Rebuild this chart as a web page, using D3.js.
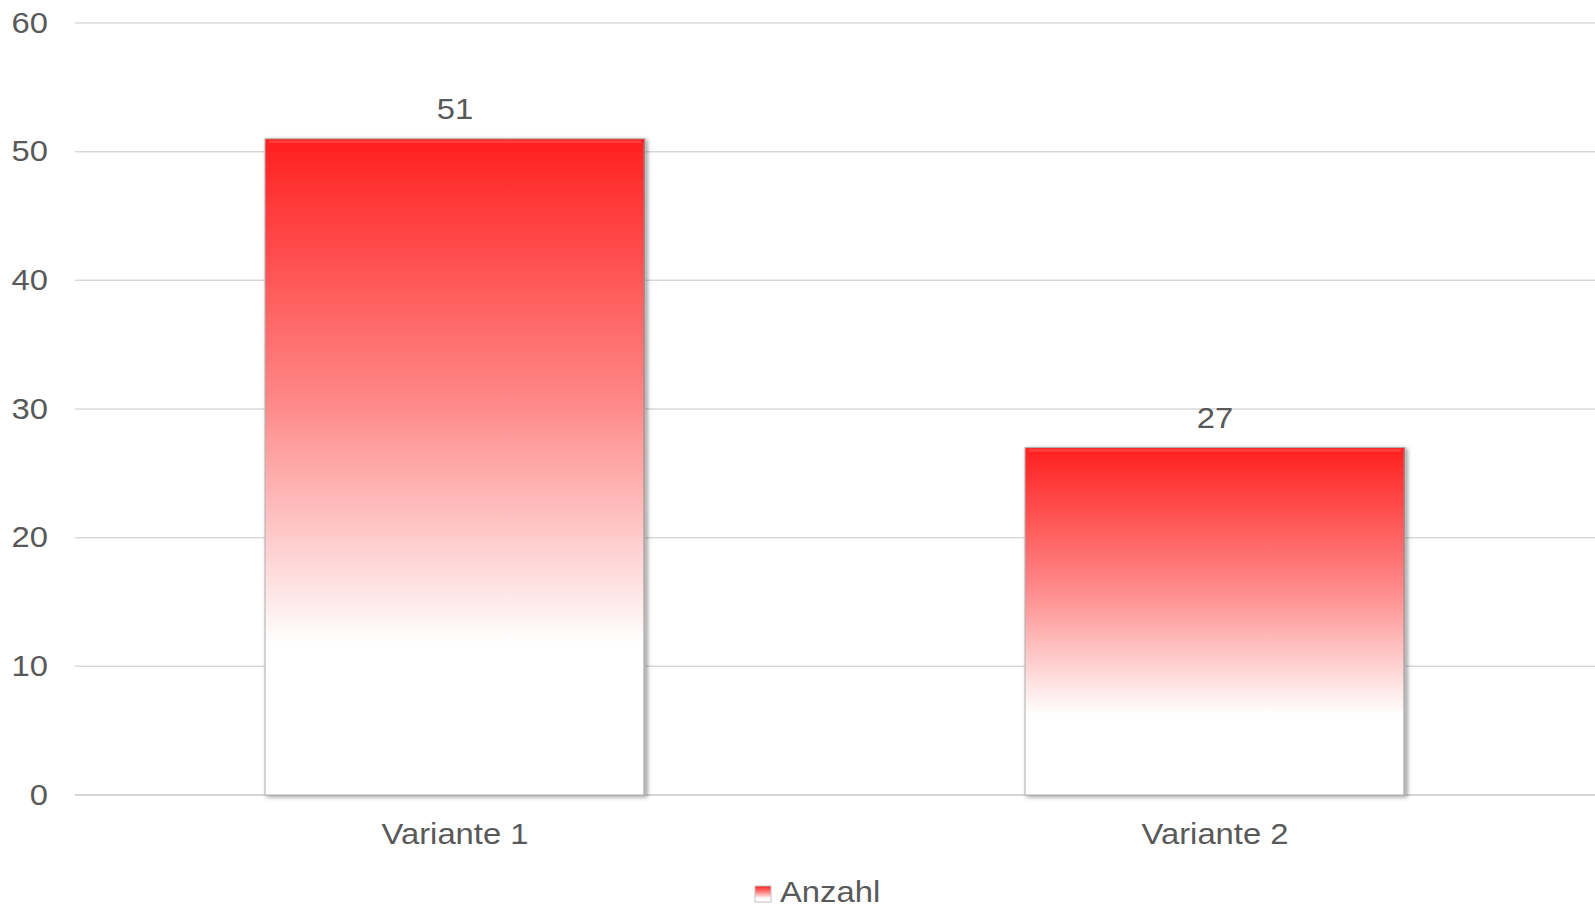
<!DOCTYPE html>
<html>
<head>
<meta charset="utf-8">
<script src="https://cdn.jsdelivr.net/npm/d3@7"></script>
<style>
  body { margin: 0; background: #fff; }
  text { font-family: "Liberation Sans", Arial, sans-serif; fill: #595959; }
</style>
</head>
<body>
<div id="chart"></div>
<script>
// data
var categories = ["Variante 1", "Variante 2"];
var values = [51, 27];
var yTicks = [0, 10, 20, 30, 40, 50, 60];
var seriesName = "Anzahl";

var width = 1595, height = 907;
var margin = {top: 23, right: 0, bottom: 112, left: 75};
var stretch = 1.13; // the original text is a little wider than Arial

var svg = d3.select("#chart")
  .append("svg")
    .attr("width", width)
    .attr("height", height);

var defs = svg.append("defs");

// bar fill: red at top fading to white
var grad = defs.append("linearGradient")
    .attr("id", "barGrad")
    .attr("x1", 0).attr("y1", 0).attr("x2", 0).attr("y2", 1);
grad.append("stop").attr("offset", "0%").attr("stop-color", "#ff1f1f");
grad.append("stop").attr("offset", "40%").attr("stop-color", "#ff8888");
grad.append("stop").attr("offset", "77%").attr("stop-color", "#ffffff");
grad.append("stop").attr("offset", "100%").attr("stop-color", "#ffffff");

var shadow = defs.append("filter")
    .attr("id", "shadow")
    .attr("x", "-5%").attr("y", "-5%").attr("width", "110%").attr("height", "110%");
shadow.append("feDropShadow")
    .attr("dx", 2).attr("dy", 1.5)
    .attr("stdDeviation", 2)
    .attr("flood-color", "#000")
    .attr("flood-opacity", 0.4);

// stretch a text selection horizontally, keeping it as text
function widen(sel) {
  sel.each(function() {
    var len = this.getComputedTextLength();
    d3.select(this)
      .attr("textLength", len * stretch)
      .attr("lengthAdjust", "spacingAndGlyphs");
  });
}

var x = d3.scaleBand()
    .domain(categories)
    .range([margin.left, width - margin.right])
    .paddingInner(0.5)
    .paddingOuter(0.25);

var y = d3.scaleLinear()
    .domain([0, 60])
    .range([height - margin.bottom, margin.top]);

// gridlines
svg.append("g")
  .selectAll("line")
  .data(yTicks)
  .join("line")
    .attr("x1", margin.left)
    .attr("x2", width - margin.right)
    .attr("y1", d => y(d))
    .attr("y2", d => y(d))
    .attr("stroke", d => d === 0 ? "#c8c8c8" : "#d9d9d9")
    .attr("stroke-width", 1.5);

// y axis labels
var yAxis = d3.axisLeft(y).tickValues(yTicks).tickSize(0).tickPadding(0);
svg.append("g")
    .attr("transform", `translate(${margin.left - 27},0)`)
    .call(yAxis)
    .call(g => g.select(".domain").remove())
    .selectAll("text")
      .attr("font-size", 29)
      .attr("fill", "#595959")
      .attr("font-family", '"Liberation Sans", Arial, sans-serif')
      .call(widen);

// bars
svg.append("g")
  .selectAll("rect")
  .data(values)
  .join("rect")
    .attr("x", (d, i) => x(categories[i]))
    .attr("y", d => y(d))
    .attr("width", x.bandwidth())
    .attr("height", d => y(0) - y(d))
    .attr("fill", "url(#barGrad)")
    .attr("stroke", "#b0b0b0")
    .attr("stroke-width", 1)
    .attr("filter", "url(#shadow)");

// right edge of the bevel
svg.append("g")
  .selectAll("line")
  .data(values)
  .join("line")
    .attr("x1", (d, i) => x(categories[i]) + x.bandwidth() - 1)
    .attr("x2", (d, i) => x(categories[i]) + x.bandwidth() - 1)
    .attr("y1", d => y(d) + 3)
    .attr("y2", y(0))
    .attr("stroke", "#8a8a8a")
    .attr("stroke-width", 1.5)
    .attr("opacity", 0.6);

// top highlight
svg.append("g")
  .selectAll("line")
  .data(values)
  .join("line")
    .attr("x1", (d, i) => x(categories[i]) + 4)
    .attr("x2", (d, i) => x(categories[i]) + x.bandwidth() - 4)
    .attr("y1", d => y(d) + 3)
    .attr("y2", d => y(d) + 3)
    .attr("stroke", "#ff5050")
    .attr("stroke-width", 2)
    .attr("opacity", 0.7);

// value labels
svg.append("g")
  .selectAll("text")
  .data(values)
  .join("text")
    .attr("x", (d, i) => x(categories[i]) + x.bandwidth() / 2)
    .attr("y", d => y(d) - 20)
    .attr("text-anchor", "middle")
    .attr("font-size", 29)
    .attr("fill", "#404040")
    .text(d => d)
    .call(widen);

// x axis labels
var xAxis = d3.axisBottom(x).tickSize(0).tickPadding(0);
svg.append("g")
    .attr("transform", `translate(0,${y(0) + 28})`)
    .call(xAxis)
    .call(g => g.select(".domain").remove())
    .selectAll("text")
      .attr("font-size", 29)
      .attr("fill", "#595959")
      .attr("font-family", '"Liberation Sans", Arial, sans-serif')
      .call(widen);

// legend
var legend = svg.append("g").attr("transform", "translate(755,886)");
legend.append("rect")
    .attr("width", 16).attr("height", 16)
    .attr("fill", "url(#barGrad)")
    .attr("stroke", "#c0c0c0");
legend.append("text")
    .attr("x", 25)
    .attr("y", 16)
    .attr("font-size", 29)
    .text(seriesName)
    .call(widen);
</script>
</body>
</html>
